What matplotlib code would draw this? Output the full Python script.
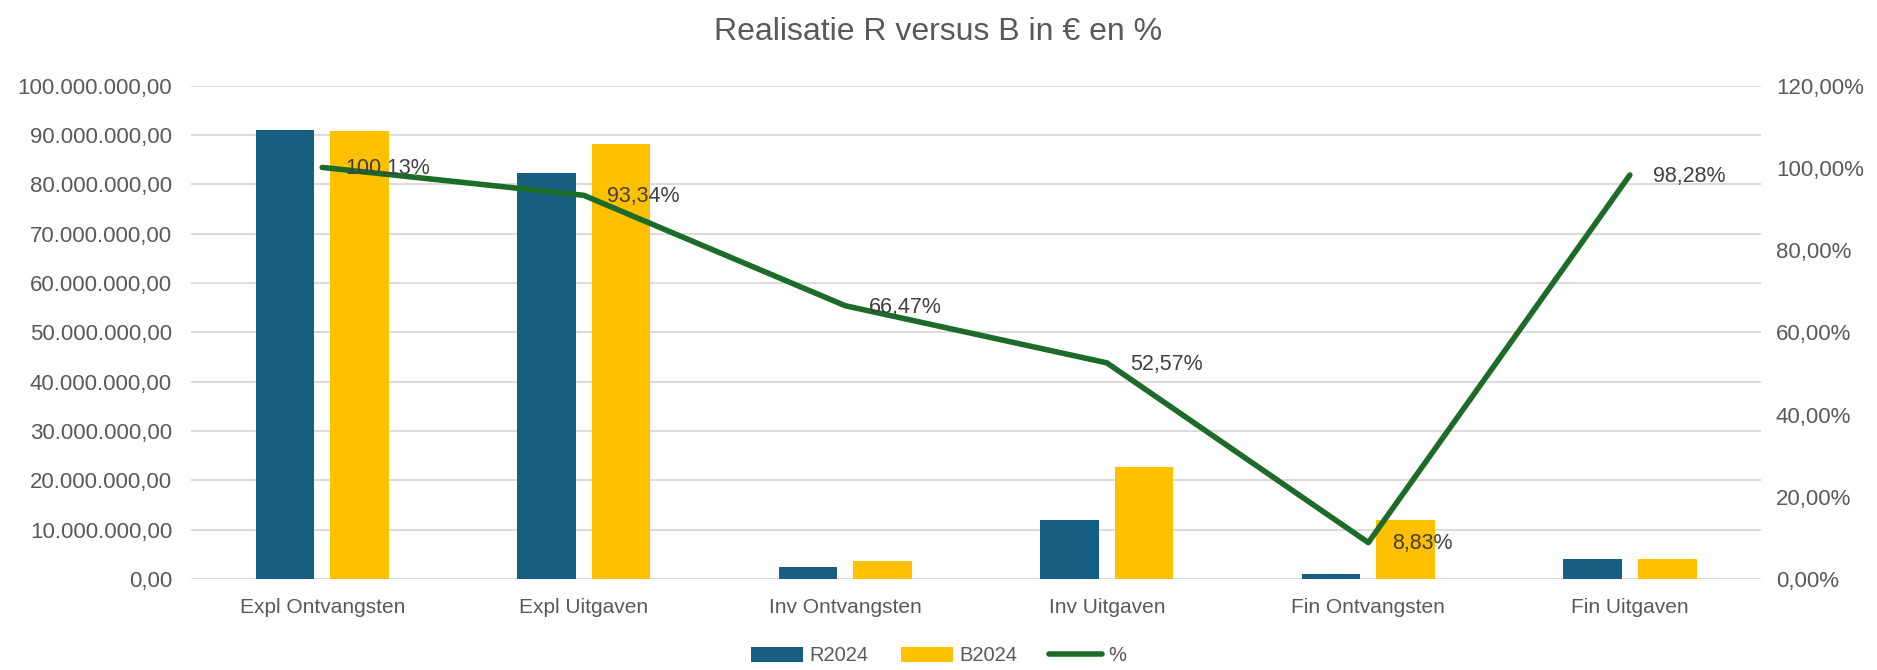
import matplotlib
matplotlib.use("Agg")
import matplotlib.pyplot as plt
from matplotlib.ticker import FuncFormatter, MultipleLocator

# --- Data ---
categories = ["Expl Ontvangsten", "Expl Uitgaven", "Inv Ontvangsten",
              "Inv Uitgaven", "Fin Ontvangsten", "Fin Uitgaven"]
r2024 = [91_000_000, 82_260_000, 2_450_000, 11_930_000, 1_060_000, 3_960_000]
b2024 = [90_880_000, 88_130_000, 3_690_000, 22_700_000, 12_000_000, 4_030_000]
pct = [100.13, 93.34, 66.47, 52.57, 8.83, 98.28]

# --- Style ---
plt.rcParams["font.family"] = ["Liberation Sans", "DejaVu Sans"]
TXT = "#595959"
BLUE = "#175F82"
GOLD = "#FFC000"
GREEN = "#1C6B28"
GRID = "#D9D9D9"


def nl_number(v, _=None):
    s = f"{v:,.2f}"
    return s.replace(",", "X").replace(".", ",").replace("X", ".")


def nl_pct(v, _=None):
    return f"{v:.2f}".replace(".", ",") + "%"


def main():
    fig = plt.figure(figsize=(18.77, 6.70), dpi=100)
    ax = fig.add_axes([0.102, 0.136, 0.836, 0.736])
    ax2 = ax.twinx()

    x = list(range(len(categories)))
    w = 0.225
    off = 0.1425
    ax.bar([i - off for i in x], r2024, width=w, color=BLUE, label="R2024", zorder=2)
    ax.bar([i + off for i in x], b2024, width=w, color=GOLD, label="B2024", zorder=2)

    ax2.plot(x, pct, color=GREEN, lw=4, solid_capstyle="round",
             solid_joinstyle="round", label="%", zorder=3)
    for i, p in zip(x, pct):
        ax2.annotate(nl_pct(p), (i, p), xytext=(17, -1), textcoords="offset points",
                     ha="left", va="center", fontsize=15.5, color="#404040")

    # --- Axes ---
    ax.set_xlim(-0.5, len(categories) - 0.5)
    ax.set_ylim(0, 100_000_000)
    ax.yaxis.set_major_locator(MultipleLocator(10_000_000))
    ax.yaxis.set_major_formatter(FuncFormatter(nl_number))
    ax2.set_ylim(0, 120)
    ax2.yaxis.set_major_locator(MultipleLocator(20))
    ax2.yaxis.set_major_formatter(FuncFormatter(nl_pct))

    ax.set_xticks(x)
    ax.set_xticklabels(categories)
    ax.grid(axis="y", color=GRID, lw=1.3, zorder=0)
    ax.set_axisbelow(True)
    for a in (ax, ax2):
        for sp in a.spines.values():
            sp.set_visible(False)
        a.tick_params(length=0, labelsize=16, colors=TXT)
    ax.tick_params(axis="x", labelsize=15, pad=14)
    ax.tick_params(axis="y", pad=14)
    ax2.tick_params(axis="y", pad=11)

    fig.suptitle("Realisatie R versus B in € en %", y=0.975, fontsize=23, color=TXT)

    h1, l1 = ax.get_legend_handles_labels()
    h2, l2 = ax2.get_legend_handles_labels()
    fig.legend(h1 + h2, l1 + l2, loc="lower center", bbox_to_anchor=(0.5, -0.02),
               ncol=3, frameon=False, fontsize=14.5, labelcolor=TXT,
               handlelength=2.6, handleheight=0.8, columnspacing=1.6, handletextpad=0.3)

    fig.savefig("out.png", dpi=100)


if __name__ == "__main__":
    main()
